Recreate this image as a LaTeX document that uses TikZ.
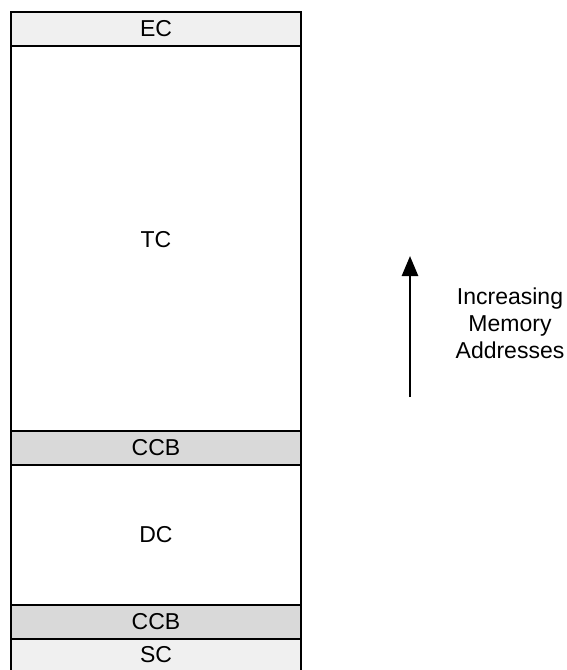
\documentclass[tikz,border=0pt]{standalone}
\usepackage{fontspec}
\setmainfont{Liberation Sans}
\usetikzlibrary{arrows.meta}
\definecolor{lightband}{HTML}{F0F0F0}
\definecolor{ccbband}{HTML}{D9D9D9}
\begin{document}
\begin{tikzpicture}[x=1pt,y=-1pt,
  band/.style={draw=black,line width=2.6pt,inner sep=0pt,outer sep=0pt,anchor=north west,
    minimum width=290pt,font=\fontsize{23}{27}\selectfont},
  lbl/.style={font=\fontsize{23}{27}\selectfont,align=center}]
\useasboundingbox (0,0) rectangle (566,670);
\node[band,fill=white,minimum height=385pt] (tc) at (11,46) {};
\node[band,fill=white,minimum height=140pt] (dc) at (11,465) {};
\node[band,fill=lightband,minimum height=34pt] (ec) at (11,12) {};
\node[band,fill=ccbband,minimum height=34pt] (ccb1) at (11,431) {};
\node[band,fill=ccbband,minimum height=34pt] (ccb2) at (11,605) {};
\node[band,fill=lightband,minimum height=34pt] (sc) at (11,639) {};
\node[lbl] (ect) at (ec.center) {EC};
\node[lbl] (tct) at (156,240) {TC};
\node[lbl] (ccb1t) at (ccb1.center) {CCB};
\node[lbl] (dct) at (dc.center) {DC};
\node[lbl] (ccb2t) at (ccb2.center) {CCB};
\node[lbl] (sct) at (156,655) {SC};
\coordinate (abot) at (410,397);
\coordinate (atop) at (410,256);
\draw[line width=2.6pt,-{Triangle[length=20pt,width=16pt]}] (abot) -- (atop);
\node[lbl,font=\fontsize{23}{27}\selectfont] (note) at (510,323) {Increasing\\Memory\\Addresses};
\end{tikzpicture}
\end{document}
